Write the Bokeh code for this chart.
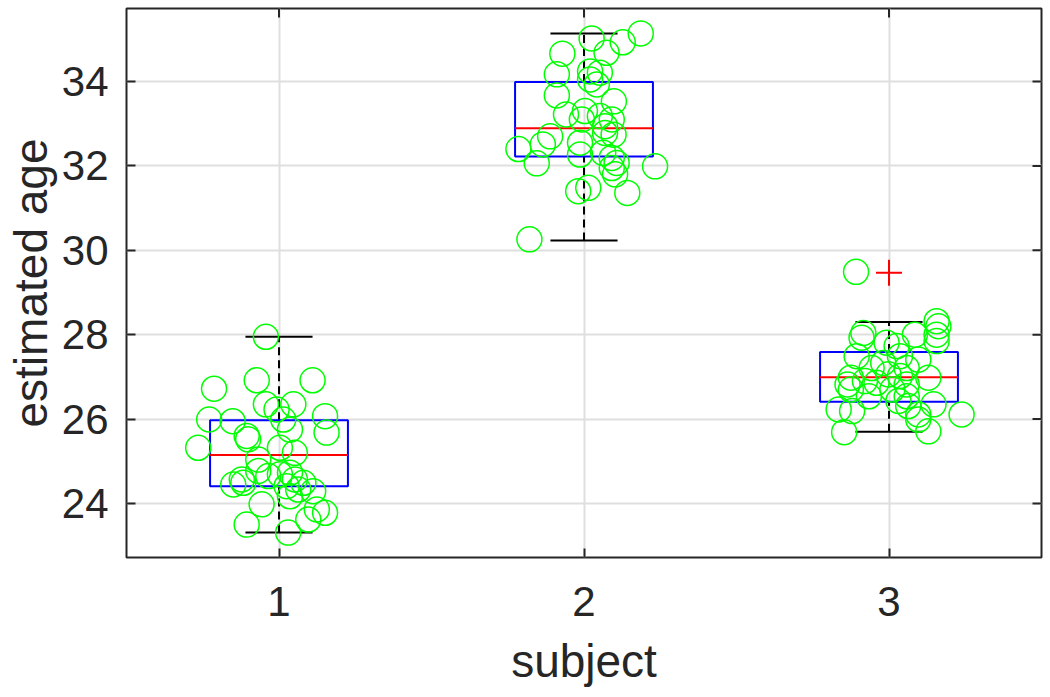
from bokeh.plotting import figure
from bokeh.models import Range1d, FixedTicker
from bokeh.embed import file_html
from bokeh.resources import INLINE

# ---- data ----
subjects = [1, 2, 3]
tick_labels = ["1", "2", "3"]
y_ticks = [24, 26, 28, 30, 32, 34]
x_lim = (0.5, 3.5)
y_lim = (22.72, 35.73)

# box statistics
q1 = [24.41, 32.22, 26.41]
median = [25.15, 32.89, 26.99]
q3 = [25.97, 33.99, 27.59]
whisker_lo = [23.31, 30.23, 25.70]
whisker_hi = [27.95, 35.14, 28.30]
outlier_x = [3]
outlier_y = [29.47]

# jittered individual estimates
s1_x = [0.957, 0.787, 0.927, 1.110, 0.957, 1.047, 0.992, 0.771, 0.848, 1.151,
        1.156, 0.894, 0.899, 1.014, 1.036, 0.735, 1.003, 1.052, 0.932, 0.932,
        0.878, 0.883, 0.965, 1.003, 1.036, 1.052, 1.025, 1.080, 1.112, 1.063,
        0.943, 1.036, 1.124, 1.151, 1.096, 0.894, 1.030, 0.850]
s1_y = [27.95, 26.72, 26.92, 26.92, 26.35, 26.35, 26.23, 25.99, 25.95, 26.07,
        25.68, 25.60, 25.52, 25.99, 25.75, 25.32, 25.32, 25.20, 25.04, 24.77,
        24.57, 24.49, 24.65, 24.69, 24.73, 24.57, 24.41, 24.49, 24.29, 24.33,
        23.98, 24.17, 23.86, 23.78, 23.62, 23.50, 23.31, 24.45]

s2_x = [2.025, 2.186, 2.127, 1.929, 2.074, 1.911, 2.020, 2.052, 2.020, 2.042,
        1.911, 2.098, 1.941, 2.003, 2.052, 2.091, 1.993, 2.069, 2.097, 2.069,
        1.889, 1.865, 1.785, 1.987, 1.987, 2.091, 1.845, 2.091, 2.102, 2.233,
        1.981, 2.014, 2.142, 1.821, 2.063, 2.107]
s2_y = [35.02, 35.14, 34.93, 34.66, 34.68, 34.17, 34.24, 34.21, 34.05, 33.93,
        33.67, 33.53, 33.22, 33.30, 33.18, 33.10, 33.10, 32.94, 32.74, 32.78,
        32.70, 32.51, 32.40, 32.55, 32.27, 32.19, 32.06, 31.95, 31.80, 31.99,
        31.40, 31.48, 31.36, 30.26, 32.31, 32.07]

s3_x = [2.892, 2.916, 2.910, 3.085, 3.156, 3.162, 3.156, 3.156, 2.992, 3.025,
        2.894, 3.096, 3.036, 2.981, 2.943, 3.058, 2.998, 3.129, 3.036, 2.875,
        2.864, 2.921, 3.058, 2.959, 2.875, 2.934, 3.011, 3.058, 3.031, 3.146,
        2.835, 2.879, 3.063, 3.096, 3.238, 3.096, 3.129, 2.853]
s3_y = [29.49, 28.04, 27.93, 28.00, 28.32, 28.20, 28.00, 27.85, 27.81, 27.73,
        27.49, 27.41, 27.49, 27.33, 27.21, 27.21, 27.06, 26.98, 27.02, 26.98,
        26.82, 26.90, 26.82, 26.86, 26.70, 26.54, 26.70, 26.54, 26.43, 26.35,
        26.23, 26.19, 26.31, 26.11, 26.11, 25.99, 25.71, 25.69]

# ---- figure ----
FONT = "Liberation Sans, Arial, Helvetica, sans-serif"
TXT = "#262626"
box_half = 0.226
cap_half = 0.11

p = figure(width=1048, height=689, output_backend="svg", toolbar_location=None,
           x_range=Range1d(*x_lim), y_range=Range1d(*y_lim),
           min_border_left=126, min_border_right=7, min_border_top=8,
           min_border_bottom=131)
p.background_fill_color = "white"
p.border_fill_color = "white"
p.outline_line_color = TXT
p.outline_line_width = 2

for ax in (p.xaxis, p.yaxis):
    ax.axis_line_color = None
    ax.major_tick_in = 9
    ax.major_tick_out = 0
    ax.minor_tick_line_color = None
    ax.major_tick_line_color = TXT
    ax.major_tick_line_width = 2
    ax.major_label_text_font = FONT
    ax.major_label_text_font_size = "42px"
    ax.major_label_text_color = TXT
    ax.axis_label_text_font = FONT
    ax.axis_label_text_font_size = "46px"
    ax.axis_label_text_font_style = "normal"
    ax.axis_label_text_color = TXT

p.xaxis.ticker = FixedTicker(ticks=subjects)
p.xaxis.major_label_overrides = {s: t for s, t in zip(subjects, tick_labels)}
p.yaxis.ticker = FixedTicker(ticks=y_ticks)
p.xaxis.axis_label = "subject"
p.yaxis.axis_label = "estimated age"
p.xaxis.major_label_standoff = 29
p.yaxis.major_label_standoff = 18
p.xaxis.axis_label_standoff = 16
p.yaxis.axis_label_standoff = 2

p.xgrid.ticker = FixedTicker(ticks=subjects)
p.ygrid.ticker = FixedTicker(ticks=y_ticks)
for g in (p.xgrid, p.ygrid):
    g.grid_line_color = "#dfdfdf"
    g.grid_line_width = 2

# inward ticks on the right and top edges (box on)
tick_dx = 9 / 305.0
tick_dy = 9 / 42.2
p.segment(x0=[x_lim[1]] * len(y_ticks), y0=y_ticks,
          x1=[x_lim[1] - tick_dx] * len(y_ticks), y1=y_ticks,
          line_color=TXT, line_width=2)
p.segment(x0=subjects, y0=[y_lim[1]] * len(subjects),
          x1=subjects, y1=[y_lim[1] - tick_dy] * len(subjects),
          line_color=TXT, line_width=2)

# whiskers
p.segment(x0=subjects, y0=q3, x1=subjects, y1=whisker_hi, line_color="black",
          line_width=2, line_dash="8 5")
p.segment(x0=subjects, y0=whisker_lo, x1=subjects, y1=q1, line_color="black",
          line_width=2, line_dash="8 5")
# caps
p.segment(x0=[s - cap_half for s in subjects], y0=whisker_hi,
          x1=[s + cap_half for s in subjects], y1=whisker_hi,
          line_color="black", line_width=2)
p.segment(x0=[s - cap_half for s in subjects], y0=whisker_lo,
          x1=[s + cap_half for s in subjects], y1=whisker_lo,
          line_color="black", line_width=2)
# boxes
p.quad(left=[s - box_half for s in subjects], right=[s + box_half for s in subjects],
       bottom=q1, top=q3, fill_color=None, line_color="blue", line_width=2)
# medians
p.segment(x0=[s - box_half for s in subjects], y0=median,
          x1=[s + box_half for s in subjects], y1=median,
          line_color="red", line_width=2)
# outliers
p.scatter(outlier_x, outlier_y, marker="cross", size=26, line_color="red",
          line_width=2)

# points
for xs, ys in ((s1_x, s1_y), (s2_x, s2_y), (s3_x, s3_y)):
    p.scatter(xs, ys, marker="circle", size=25, fill_color=None,
              line_color="#00ff00", line_width=1.5)

open("out.html", "w").write(file_html(p, INLINE))
